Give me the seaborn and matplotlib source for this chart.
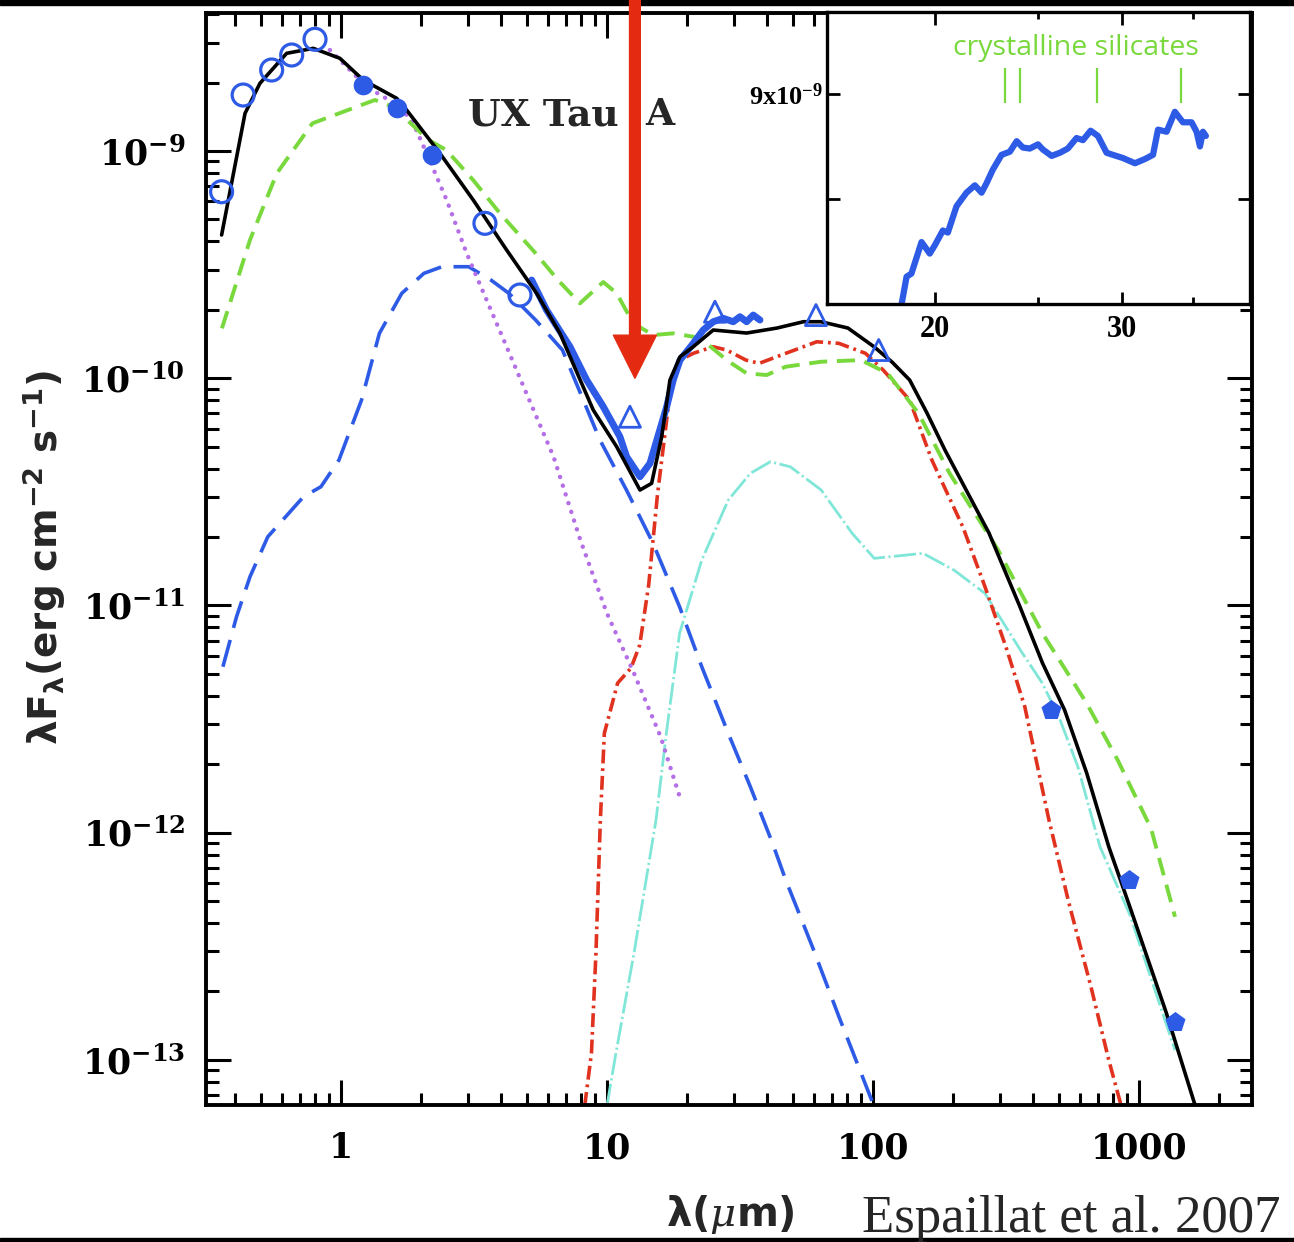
import matplotlib
matplotlib.use("Agg")
import matplotlib.pyplot as plt
from matplotlib.patches import Rectangle
from matplotlib.ticker import NullFormatter, LogLocator
import seaborn as sns

# ---- SED data (wavelength in micron, lambda*F_lambda in erg cm^-2 s^-1) ----
wl_total = [0.356, 0.436, 0.496, 0.625, 0.787, 0.991, 1.213, 1.620, 1.766, 2.356,
            3.144, 3.960, 4.197, 5.441, 6.658, 8.882, 10.88, 13.31, 14.72, 16.06,
            17.25, 18.82, 21.11, 25.09, 33.50, 43.57, 54.78, 63.76, 80.54, 100.9,
            117.9, 137.4, 159.6, 186.5, 273.0, 356.9, 433.7, 525.3, 636.0, 770.0,
            933.0, 1264, 1624]
f_total = [4.27e-10, 1.465e-9, 1.986e-9, 2.692e-9, 2.831e-9, 2.559e-9, 2.053e-9, 1.706e-9,
           1.515e-9, 9.77e-10, 6.085e-10, 4.058e-10, 3.667e-10, 2.364e-10, 1.576e-10,
           7.244e-11, 4.994e-11, 3.221e-11, 3.447e-11, 5.527e-11, 9.82e-11, 1.243e-10,
           1.376e-10, 1.630e-10, 1.581e-10, 1.663e-10, 1.773e-10, 1.773e-10, 1.663e-10,
           1.376e-10, 1.179e-10, 9.82e-11, 7.03e-11, 4.83e-11, 2.083e-11, 9.87e-12,
           5.58e-12, 3.464e-12, 1.829e-12, 8.67e-13, 4.565e-13, 1.623e-13, 6.33e-14]

wl_irs = [5.21, 5.93, 7.26, 8.39, 9.69, 11.19, 11.86, 13.31, 14.51, 16.77, 17.75,
          18.82, 21.11, 23.01, 25.09, 27.36, 29.84, 31.62, 33.50, 35.48, 37.60]
f_irs = [2.705e-10, 1.996e-10, 1.376e-10, 9.82e-11, 7.49e-11, 5.527e-11, 4.51e-11,
         3.685e-11, 4.22e-11, 7.49e-11, 9.82e-11, 1.202e-10, 1.424e-10, 1.630e-10,
         1.773e-10, 1.835e-10, 1.773e-10, 1.865e-10, 1.773e-10, 1.897e-10, 1.804e-10]

wl_green = [0.357, 0.455, 0.574, 0.781, 1.148, 1.342, 1.568, 2.135, 2.490, 3.141, 3.960,
            5.395, 6.544, 7.914, 9.685, 10.88, 12.56, 14.93, 17.75, 21.11, 23.70, 28.18,
            33.50, 39.84, 47.01, 63.76, 90.14, 113.5, 148.4, 194.1, 295.6, 433.7, 636.0,
            831.7, 1110, 1366]
f_green = [1.658e-10, 4.058e-10, 7.977e-10, 1.324e-9, 1.567e-9, 1.677e-9, 1.567e-9,
           1.118e-9, 1.010e-9, 7.45e-10, 5.32e-10, 3.546e-10, 2.705e-10, 2.136e-10,
           2.651e-10, 2.364e-10, 1.744e-10, 1.549e-10, 1.576e-10, 1.523e-10, 1.424e-10,
           1.202e-10, 1.051e-10, 1.033e-10, 1.124e-10, 1.182e-10, 1.202e-10, 1.051e-10,
           7.005e-11, 3.815e-11, 1.753e-11, 7.54e-12, 3.709e-12, 2.087e-12, 1.044e-12,
           4.264e-13]

wl_bdash = [0.360, 0.405, 0.455, 0.531, 0.723, 0.841, 0.983, 1.195, 1.395, 1.693, 2.051,
            2.398, 3.021, 3.664, 4.281, 5.395, 6.803, 9.412, 11.84, 14.89, 18.75, 22.72,
            28.58, 34.60, 41.94, 47.01, 59.19, 74.50, 101.1]
f_bdash = [5.373e-12, 8.92e-12, 1.337e-11, 2.006e-11, 3.009e-11, 3.330e-11, 4.365e-11,
           8.015e-11, 1.576e-10, 2.364e-10, 2.895e-10, 3.096e-10, 3.096e-10, 2.705e-10,
           2.364e-10, 1.804e-10, 1.331e-10, 5.346e-11, 3.221e-11, 1.882e-11, 9.87e-12,
           5.373e-12, 2.736e-12, 1.592e-12, 8.97e-13, 6.185e-13, 3.146e-13, 1.548e-13,
           6.22e-14]

wl_star = [0.909, 1.249, 1.667, 1.870, 2.100, 2.497, 2.969, 3.529, 3.960, 4.994, 6.300,
           7.943, 10.0, 12.64, 15.92, 18.94]
f_star = [2.783e-9, 1.919e-9, 1.567e-9, 1.324e-9, 9.77e-10, 6.085e-10, 3.546e-10,
          2.208e-10, 1.613e-10, 8.52e-11, 4.51e-11, 1.940e-11, 9.23e-12, 5.025e-12,
          2.642e-12, 1.391e-12]

wl_wall = [8.250, 8.745, 9.092, 9.445, 9.777, 10.97, 12.31, 13.28, 14.35, 15.48, 16.41,
           17.25, 18.82, 21.11, 25.09, 28.18, 33.30, 37.38, 47.01, 61.48, 74.50, 93.72,
           109.2, 137.4, 166.5, 217.6, 263.7, 319.0, 372.2, 458.8, 545.6, 659.9, 770.0,
           857.3]
f_wall = [6.28e-14, 1.071e-13, 2.953e-13, 1.136e-12, 2.736e-12, 4.554e-12, 5.30e-12,
          6.695e-12, 1.229e-11, 3.06e-11, 5.346e-11, 8.58e-11, 1.202e-10, 1.287e-10,
          1.376e-10, 1.331e-10, 1.202e-10, 1.163e-10, 1.287e-10, 1.447e-10, 1.424e-10,
          1.287e-10, 1.087e-10, 8.015e-11, 4.365e-11, 2.220e-11, 1.209e-11, 6.364e-12,
          3.582e-12, 1.136e-12, 4.884e-13, 2.098e-13, 9.98e-14, 6.28e-14]

wl_disk = [10.0, 10.81, 12.64, 15.29, 16.72, 18.75, 22.72, 28.58, 34.60, 41.15, 48.88,
           63.88, 83.53, 101.1, 154.2, 201.6, 263.7, 358.2, 433.7, 505.4, 589.3, 713.5,
           925.0, 1199, 1366]
f_disk = [6.28e-14, 1.071e-13, 2.953e-13, 1.136e-12, 2.736e-12, 7.54e-12, 1.584e-11,
          2.910e-11, 3.815e-11, 4.291e-11, 4.078e-11, 3.221e-11, 2.077e-11, 1.612e-11,
          1.696e-11, 1.431e-11, 1.130e-11, 6.364e-12, 4.54e-12, 3.131e-12, 1.950e-12,
          8.67e-13, 4.338e-13, 1.742e-13, 1.104e-13]

# photometry
wl_open = [0.356, 0.429, 0.549, 0.653, 0.799, 3.478, 4.710]
f_open = [6.62e-10, 1.764e-9, 2.273e-9, 2.646e-9, 3.102e-9, 4.806e-10, 2.324e-10]
wl_fill = [1.213, 1.620, 2.193]
f_fill = [1.952e-9, 1.542e-9, 9.60e-10]
wl_tri = [12.20, 25.47, 61.06, 105.1]
f_tri = [6.77e-11, 1.962e-10, 1.897e-10, 1.331e-10]
wl_mm = [466.9, 915.5, 1366]
f_mm = [3.464e-12, 6.185e-13, 1.472e-13]

# inset spectrum (flux in units of 1e-9)
wl_inset = [18.61, 18.81, 19.01, 19.43, 19.78, 20.00, 20.35, 20.57, 20.96, 21.42, 21.81,
            22.13, 22.37, 22.68, 23.11, 23.53, 23.88, 24.20, 24.57, 25.01, 25.28, 25.76,
            26.23, 26.68, 27.19, 27.57, 28.03, 28.48, 29.02, 29.42, 30.06, 30.86, 31.53,
            32.09, 32.44, 33.05, 33.65, 34.24, 34.89, 35.27, 35.53, 35.76, 35.99]
f_inset = [7.00, 7.26, 7.29, 7.59, 7.48, 7.56, 7.70, 7.68, 7.93, 8.06, 8.13, 8.06, 8.15,
           8.28, 8.42, 8.45, 8.55, 8.49, 8.48, 8.52, 8.47, 8.41, 8.44, 8.48, 8.58, 8.56,
           8.65, 8.60, 8.44, 8.42, 8.39, 8.34, 8.38, 8.42, 8.66, 8.64, 8.83, 8.73, 8.73,
           8.64, 8.50, 8.64, 8.60]
silicate_wl = [23.28, 24.05, 28.42, 34.09]

x_ticks = [1, 10, 100, 1000]
x_ticklabels = ["1", "10", "100", "1000"]
y_ticks = [1e-13, 1e-12, 1e-11, 1e-10, 1e-9]

BLUE = "#2d5be6"
GREEN = "#78d83c"
RED = "#e0321e"
CYAN = "#7fe6d8"
PURPLE = "#b46fe6"

sns.set_style("ticks")
plt.rcParams["font.family"] = ["DejaVu Serif"]
plt.rcParams["mathtext.fontset"] = "custom"
plt.rcParams["mathtext.rm"] = "DejaVu Sans:bold"
plt.rcParams["mathtext.bf"] = "DejaVu Sans:bold"
plt.rcParams["mathtext.it"] = "DejaVu Serif:italic"
plt.rcParams["lines.scale_dashes"] = False

W, H = 1294, 1242
fig = plt.figure(figsize=(W / 100, H / 100), dpi=100)
fig.patch.set_facecolor("white")

# slide borders
fig.add_artist(Rectangle((0, 1 - 5 / H), 1, 5 / H, transform=fig.transFigure,
                         color="black", zorder=-1))
fig.add_artist(Rectangle((0, 0), 1, 4 / H, transform=fig.transFigure,
                         color="black", zorder=-1))

ax = fig.add_axes([206 / W, 1 - 1105 / H, 1046 / W, 1092 / H])
ax.set_xscale("log")
ax.set_yscale("log")
ax.set_xlim(0.311, 2660)
ax.set_ylim(6.33e-14, 4.05e-9)

kw = dict(ax=ax, sort=False, estimator=None, errorbar=None)
sns.lineplot(x=wl_irs, y=f_irs, color=BLUE, lw=5.0, zorder=3, **kw)
sns.lineplot(x=wl_disk, y=f_disk, color=CYAN, lw=2.0,
             linestyle=(0, (16, 2.5, 1.5, 2.5)), zorder=2, **kw)
sns.lineplot(x=wl_wall, y=f_wall, color=RED, lw=2.6,
             linestyle=(0, (10, 3.5, 2, 3.5)), zorder=2, **kw)
sns.lineplot(x=wl_bdash, y=f_bdash, color=BLUE, lw=2.6,
             linestyle=(0, (20, 9)), zorder=2, **kw)
sns.lineplot(x=wl_star, y=f_star, color=PURPLE, lw=3.2,
             linestyle=(0, (0.1, 6.5)), dash_capstyle="round", zorder=2, **kw)
sns.lineplot(x=wl_green, y=f_green, color=GREEN, lw=2.8,
             linestyle=(0, (13, 7)), zorder=2, **kw)
sns.lineplot(x=wl_total, y=f_total, color="black", lw=2.6, zorder=4, **kw)

sns.scatterplot(x=wl_open, y=f_open, ax=ax, marker="o", s=250, facecolor="none",
                edgecolor=BLUE, linewidth=2.3, zorder=5)
sns.scatterplot(x=wl_fill, y=f_fill, ax=ax, marker="o", s=200, color=BLUE,
                edgecolor=BLUE, linewidth=0, zorder=5)
sns.scatterplot(x=wl_tri, y=f_tri, ax=ax, marker="^", s=230, facecolor="none",
                edgecolor=BLUE, linewidth=2.0, zorder=5)
sns.scatterplot(x=wl_mm, y=f_mm, ax=ax, marker="p", s=230, color=BLUE,
                edgecolor=BLUE, linewidth=0, zorder=5)

ax.set_xticks(x_ticks)
ax.set_xticklabels(x_ticklabels)
ax.set_yticks(y_ticks)
ax.xaxis.set_minor_locator(LogLocator(base=10, subs=range(2, 10), numticks=20))
ax.yaxis.set_minor_locator(LogLocator(base=10, subs=range(2, 10), numticks=20))
ax.xaxis.set_minor_formatter(NullFormatter())
ax.yaxis.set_minor_formatter(NullFormatter())
ax.tick_params(which="both", direction="in", top=True, right=True, width=2.2,
               colors="black", labelsize=25)
ax.tick_params(which="major", length=18)
ax.tick_params(which="minor", length=9)
ax.tick_params(axis="x", pad=19)
ax.tick_params(axis="y", pad=15)
for lbl in ax.get_xticklabels() + ax.get_yticklabels():
    lbl.set_fontweight("bold")
for sp in ax.spines.values():
    sp.set_linewidth(2.8)
    sp.set_color("black")
ax.set_xlabel("")
ax.set_ylabel("")

# object name, split around the arrow
ax.text((468 - 206) / 1046, (1105 - 125) / 1092, "UX Tau", transform=ax.transAxes,
        family="DejaVu Serif", fontweight="bold", fontsize=27, ha="left",
        va="baseline", zorder=3)
ax.text((645 - 206) / 1046, (1105 - 125) / 1092, "A", transform=ax.transAxes,
        family="DejaVu Serif", fontweight="bold", fontsize=27, ha="left",
        va="baseline", zorder=3)

ax.annotate("", xy=(12.74, 1.0e-10), xytext=(12.74, 4.7e-9), xycoords="data",
            textcoords="data", annotation_clip=False, zorder=10,
            arrowprops=dict(arrowstyle="simple,head_length=1.0,head_width=1.0,tail_width=0.25",
                            mutation_scale=31, color="#e42a10", shrinkA=0, shrinkB=0))

fig.text(44 / W, 1 - 558 / H, r"$\mathrm{λF_{λ}(erg\ cm^{-2}\ s^{-1})}$",
         rotation=90, ha="center", va="center", fontsize=28)
fig.text(730 / W, 1 - 1214 / H, r"$\mathrm{λ(}\mathit{μ}\mathrm{m)}$",
         ha="center", va="center", fontsize=29)
fig.text(862 / W, 1 - 1232 / H, "Espaillat et al. 2007", family="Liberation Serif",
         fontsize=38, ha="left", va="baseline")

# ---- inset ----
ax_in = fig.add_axes([827 / W, 1 - 304 / H, 423 / W, 292 / H])
ax_in.set_facecolor("white")
ax_in.set_xscale("log")
ax_in.set_xlim(15.83, 39.6)
ax_in.set_ylim(7.0, 9.78)
sns.lineplot(x=wl_inset, y=f_inset, ax=ax_in, color=BLUE, lw=4.5, sort=False,
             estimator=None, errorbar=None)
ax_in.vlines(silicate_wl, 8.91, 9.25, color=GREEN, lw=1.6)
ax_in.text(0.589, 0.853, "crystalline silicates", transform=ax_in.transAxes,
           family="Open Sans", fontsize=20.5, color=GREEN, ha="center", va="baseline")
ax_in.set_xticks([20, 30])
ax_in.set_xticklabels(["20", "30"])
ax_in.set_xticks([25, 35], minor=True)
ax_in.xaxis.set_minor_formatter(NullFormatter())
ax_in.set_yticks([8, 9])
ax_in.set_yticklabels(["", r"$\mathdefault{9x10^{-9}}$"])
ax_in.set_yticks([], minor=True)
ax_in.tick_params(which="both", direction="in", top=True, right=True, width=2.0,
                  colors="black")
ax_in.tick_params(which="major", length=9)
ax_in.tick_params(which="minor", length=5)
ax_in.tick_params(axis="x", pad=8, labelsize=22, labelfontfamily="Liberation Serif")
ax_in.tick_params(axis="y", pad=3, labelsize=19, labelfontfamily="Liberation Serif")
for lbl in ax_in.get_xticklabels() + ax_in.get_yticklabels():
    lbl.set_fontweight("bold")
for sp in ax_in.spines.values():
    sp.set_linewidth(2.4)
    sp.set_color("black")
ax_in.set_xlabel("")
ax_in.set_ylabel("")

fig.savefig("out.png", dpi=100)
